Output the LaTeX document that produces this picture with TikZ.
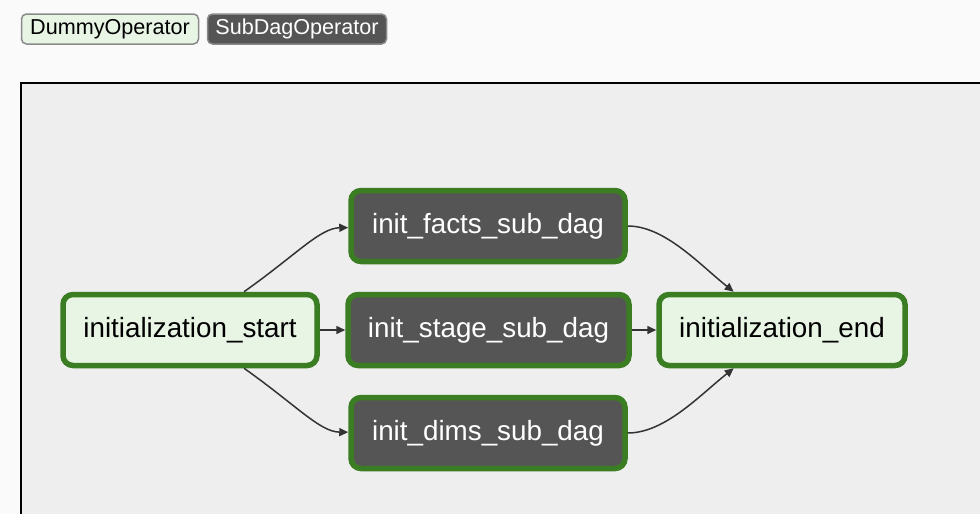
\documentclass[tikz,border=0pt]{standalone}
\usepackage{fontspec}
\setmainfont{Liberation Sans}
\usetikzlibrary{arrows.meta}
\definecolor{pagebg}{HTML}{FAFAFA}
\definecolor{canvasbg}{HTML}{EEEEEE}
\definecolor{dummyfill}{HTML}{E8F5E4}
\definecolor{subdagfill}{HTML}{555555}
\definecolor{okgreen}{HTML}{3B7D23}
\definecolor{edgecol}{HTML}{333333}
\definecolor{legendborder}{HTML}{8A8A8A}
\newcommand{\lowtext}[1]{\raisebox{-2.5pt}{#1}}
\tikzset{
  legendbox/.style={draw=legendborder, line width=1.5pt, rounded corners=5pt,
    minimum height=30pt, inner xsep=2pt, inner ysep=0pt, font=\fontsize{21.6}{25}\selectfont},
  taskbox/.style={draw=okgreen, line width=5.5pt, rounded corners=10pt,
    minimum height=71pt, inner sep=0pt, font=\fontsize{27.8}{31}\selectfont},
  dummytask/.style={taskbox, fill=dummyfill, text=black},
  subdagtask/.style={taskbox, fill=subdagfill, text=white},
  edge/.style={draw=edgecol, line width=1.5pt, -{Triangle[length=9pt,width=8pt]}}
}
\begin{document}
\begin{tikzpicture}[x=1pt,y=-1pt]
\fill[pagebg] (0,0) rectangle (980,514);
\useasboundingbox (0,0) rectangle (980,514);
% legend
\node[legendbox, fill=dummyfill, text=black, minimum width=177pt] (legdummy) at (110,29) {\lowtext{DummyOperator}};
\node[legendbox, fill=subdagfill, text=white, minimum width=179pt] (legsubdag) at (297,29) {\lowtext{SubDagOperator}};
% canvas
\draw[black, line width=2pt, fill=canvasbg] (21,83) rectangle (1000,530);
% tasks
\node[dummytask, minimum width=254pt] (start) at (190,330) {\lowtext{initialization\_start}};
\node[subdagtask, minimum width=274pt] (facts) at (488,226) {\lowtext{init\_facts\_sub\_dag}};
\node[subdagtask, minimum width=281pt] (stage) at (488.5,330) {\lowtext{init\_stage\_sub\_dag}};
\node[subdagtask, minimum width=274pt] (dims) at (488,433) {\lowtext{init\_dims\_sub\_dag}};
\node[dummytask, minimum width=246pt] (end) at (782,330) {\lowtext{initialization\_end}};
% edges
\draw[edge] (start) .. controls (296,255) and (320,228) .. (facts);
\draw[edge] (start) -- (stage);
\draw[edge] (start) .. controls (296,405) and (320,432) .. (dims);
\draw[edge] (facts) .. controls (665,226) and (700,265) .. (end);
\draw[edge] (stage) -- (end);
\draw[edge] (dims) .. controls (665,433) and (700,395) .. (end);
\end{tikzpicture}
\end{document}
